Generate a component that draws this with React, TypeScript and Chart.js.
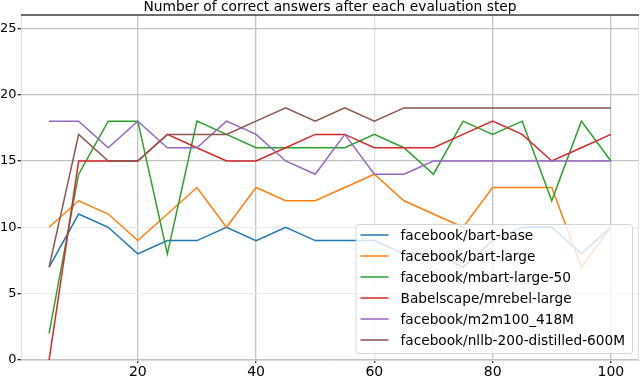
import React, { useEffect, useRef } from "react";
import { Chart, registerables } from "chart.js";

Chart.register(...registerables);

const steps = [5, 10, 15, 20, 25, 30, 35, 40, 45, 50, 55, 60, 65, 70, 75, 80, 85, 90, 95, 100];
const bartBase = [7, 11, 10, 8, 9, 9, 10, 9, 10, 9, 9, 9, 8, 8, 7, 9, 10, 10, 8, 10];
const bartLarge = [10, 12, 11, 9, 11, 13, 10, 13, 12, 12, 13, 14, 12, 11, 10, 13, 13, 13, 7, 10];
const mbartLarge50 = [2, 14, 18, 18, 8, 18, 17, 16, 16, 16, 16, 17, 16, 14, 18, 17, 18, 12, 18, 15];
const mrebelLarge = [0, 15, 15, 15, 17, 16, 15, 15, 16, 17, 17, 16, 16, 16, 17, 18, 17, 15, 16, 17];
const m2m100 = [18, 18, 16, 18, 16, 16, 18, 17, 15, 14, 17, 14, 14, 15, 15, 15, 15, 15, 15, 15];
const nllb600M = [7, 17, 15, 15, 17, 17, 17, 18, 19, 18, 19, 18, 19, 19, 19, 19, 19, 19, 19, 19];

const seriesNames = [
  "facebook/bart-base",
  "facebook/bart-large",
  "facebook/mbart-large-50",
  "Babelscape/mrebel-large",
  "facebook/m2m100_418M",
  "facebook/nllb-200-distilled-600M",
];
const seriesValues = [bartBase, bartLarge, mbartLarge50, mrebelLarge, m2m100, nllb600M];
const seriesColors = ["#1f77b4", "#ff7f0e", "#2ca02c", "#d62728", "#9467bd", "#8c564b"];

const xTicks = [20, 40, 60, 80, 100];
const yTicks = [0, 5, 10, 15, 20, 25];
const titleText = "Number of correct answers after each evaluation step";

const FONT = "'DejaVu Sans', sans-serif";

const framePlugin = {
  id: "frame",
  afterDraw(chart: any) {
    const { ctx, chartArea } = chart;
    const { left, right, top, bottom } = chartArea;
    ctx.save();
    // title centred over the plot area
    ctx.font = `13.8px ${FONT}`;
    ctx.fillStyle = "#000";
    ctx.textAlign = "center";
    ctx.textBaseline = "middle";
    ctx.fillText(titleText, (left + right) / 2, top / 2);
    // right spine
    ctx.strokeStyle = "#dedede";
    ctx.lineWidth = 1;
    ctx.beginPath();
    ctx.moveTo(right - 0.5, top);
    ctx.lineTo(right - 0.5, bottom);
    ctx.stroke();
    // top spine
    ctx.strokeStyle = "#3c3c3c";
    ctx.lineWidth = 1.5;
    ctx.beginPath();
    ctx.moveTo(left, top);
    ctx.lineTo(right, top);
    ctx.stroke();

    // legend
    ctx.font = `13.7px ${FONT}`;
    const datasets = chart.data.datasets;
    let maxW = 0;
    datasets.forEach((d: any) => {
      maxW = Math.max(maxW, ctx.measureText(d.label).width);
    });
    const rowH = 21;
    const boxW = 45 + maxW + 7;
    const boxH = datasets.length * rowH + 3;
    const bx = right - 7 - boxW;
    const by = bottom - 7 - boxH;
    ctx.fillStyle = "rgba(255,255,255,0.8)";
    ctx.strokeStyle = "rgba(204,204,204,0.8)";
    ctx.lineWidth = 1;
    ctx.beginPath();
    (ctx as any).roundRect(bx + 0.5, by + 0.5, boxW, boxH, 3);
    ctx.fill();
    ctx.stroke();
    datasets.forEach((d: any, i: number) => {
      const cy = by + 11 + i * rowH;
      ctx.strokeStyle = d.borderColor;
      ctx.lineWidth = 1.5;
      ctx.beginPath();
      ctx.moveTo(bx + 5, cy);
      ctx.lineTo(bx + 33, cy);
      ctx.stroke();
      ctx.fillStyle = "#000";
      ctx.textBaseline = "middle";
      ctx.textAlign = "left";
      ctx.fillText(d.label, bx + 45, cy + 1);
    });
    ctx.restore();
  },
};

export default function App() {
  const ref = useRef<HTMLCanvasElement | null>(null);
  useEffect(() => {
    document.body.style.margin = "0";
    if (!ref.current) return;
    const chart = new Chart(ref.current, {
      type: "line",
      data: {
        datasets: seriesNames.map((name, i) => ({
          label: name,
          data: steps.map((s, j) => ({ x: s, y: seriesValues[i][j] })),
          borderColor: seriesColors[i],
          backgroundColor: seriesColors[i],
          borderWidth: 1.5,
          pointRadius: 0,
          tension: 0,
          fill: false,
          order: seriesNames.length - i,
        })),
      },
      options: {
        animation: false,
        responsive: false,
        maintainAspectRatio: false,
        layout: { padding: { left: 0, right: 1, top: 15, bottom: 0 } },
        plugins: {
          legend: { display: false },
          tooltip: { enabled: false },
          title: { display: false },
        },
        scales: {
          x: {
            type: "linear",
            min: 0.25,
            max: 104.75,
            afterBuildTicks: (s: any) => {
              s.ticks = xTicks.map((v) => ({ value: v }));
            },
            afterFit: (s: any) => {
              s.height = 16;
            },
            grid: {
              color: (c: any) => (c.tick && c.tick.value === 60 ? "#e2e2e2" : "#c2c2c2"),
              lineWidth: 1.3,
              tickLength: 3,
              tickColor: "#333",
            },
            border: { color: "#dcdcdc" },
            ticks: {
              color: "#000",
              padding: 1,
              maxRotation: 0,
              font: { family: FONT, size: 14 },
              callback: (v: any) => String(v),
            },
          },
          y: {
            type: "linear",
            min: 0,
            max: 26,
            afterBuildTicks: (s: any) => {
              s.ticks = yTicks.map((v) => ({ value: v }));
            },
            afterFit: (s: any) => {
              s.width = 21;
            },
            grid: {
              color: (c: any) =>
                c.tick && (c.tick.value === 5 || c.tick.value === 10) ? "#ececec" : "#c2c2c2",
              lineWidth: 1.3,
              tickLength: 3.5,
              tickColor: "#333",
            },
            border: { color: "#dcdcdc" },
            ticks: {
              color: "#000",
              padding: 1,
              font: { family: FONT, size: 13 },
              callback: (v: any) => String(v),
            },
          },
        },
      },
      plugins: [framePlugin],
    });
    return () => chart.destroy();
  }, []);
  return (
    <div style={{ position: "fixed", left: 0, top: 0, width: 640, height: 376 }}>
      <canvas ref={ref} width={640} height={376} />
    </div>
  );
}
